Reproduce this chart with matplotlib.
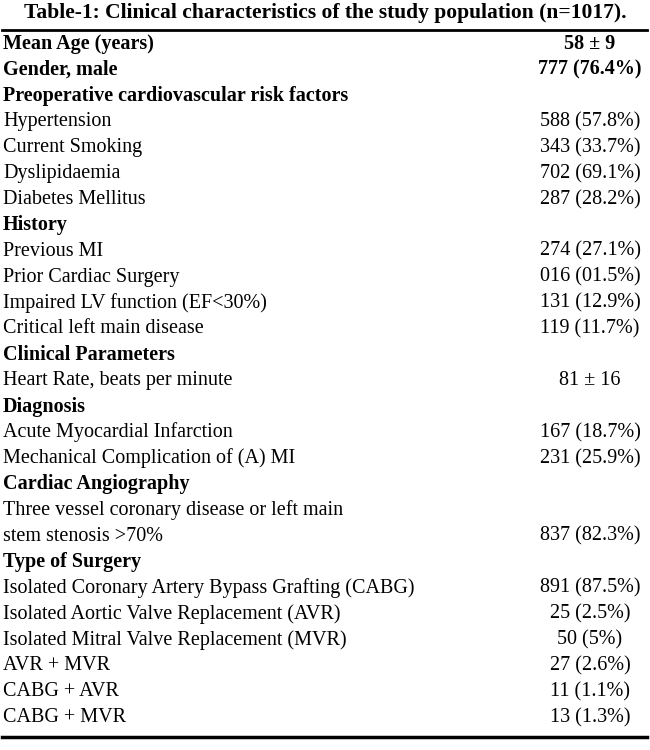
import matplotlib.pyplot as plt

plt.rcParams["font.family"] = ["Liberation Serif", "DejaVu Serif"]

title = "Table-1: Clinical characteristics of the study population (n=1017)."

labels = [
    "Mean Age (years)", "Gender, male", "Preoperative cardiovascular risk factors",
    "Hypertension", "Current Smoking", "Dyslipidaemia", "Diabetes Mellitus",
    "History", "Previous MI", "Prior Cardiac Surgery", "Impaired LV function (EF<30%)",
    "Critical left main disease", "Clinical Parameters", "Heart Rate, beats per minute",
    "Diagnosis", "Acute Myocardial Infarction", "Mechanical Complication of (A) MI",
    "Cardiac Angiography", "Three vessel coronary disease or left main",
    "stem stenosis >70%", "Type of Surgery",
    "Isolated Coronary Artery Bypass Grafting (CABG)",
    "Isolated Aortic Valve Replacement (AVR)",
    "Isolated Mitral Valve Replacement (MVR)",
    "AVR + MVR", "CABG + AVR", "CABG + MVR",
]
values = [
    "58 ± 9", "777 (76.4%)", "",
    "588 (57.8%)", "343 (33.7%)", "702 (69.1%)", "287 (28.2%)",
    "", "274 (27.1%)", "016 (01.5%)", "131 (12.9%)", "119 (11.7%)",
    "", "81 ± 16",
    "", "167 (18.7%)", "231 (25.9%)",
    "", "", "837 (82.3%)", "",
    "891 (87.5%)", "25 (2.5%)", "50 (5%)", "27 (2.6%)", "11 (1.1%)", "13 (1.3%)",
]
bold_rows = {0, 1, 2, 7, 12, 14, 17, 20}

fig = plt.figure(figsize=(6.5, 7.5), dpi=100)
ax = fig.add_axes([0, 0, 1, 1])
ax.set_xlim(0, 650)
ax.set_ylim(750, 0)
ax.axis("off")

ax.text(325, 13, title, ha="center", va="center", fontsize=15.5, fontweight="bold")
ax.plot([2, 647], [30, 30], color="black", lw=2)
ax.plot([2, 647], [737, 737], color="black", lw=2.5)

row_y0, row_h = 44, 25.9
for i, (lab, val) in enumerate(zip(labels, values)):
    y = row_y0 + i * row_h
    w = "bold" if i in bold_rows else "normal"
    ax.text(3, y, lab, ha="left", va="center", fontsize=14.5, fontweight=w)
    if val:
        ax.text(590, y, val, ha="center", va="center", fontsize=14.5, fontweight=w)

fig.savefig("out.png", dpi=100)
